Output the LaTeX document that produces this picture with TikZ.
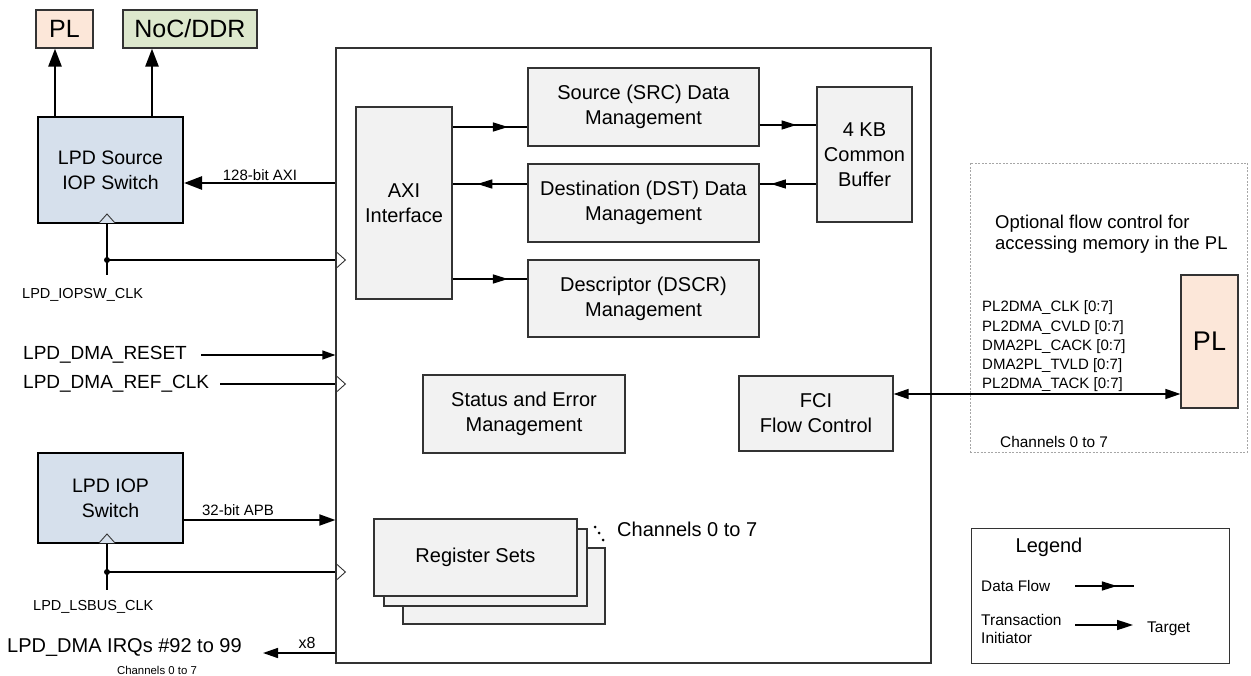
\documentclass[tikz,border=0pt]{standalone}
\usepackage{fontspec}
\setmainfont{Liberation Sans}
\usetikzlibrary{arrows.meta,decorations.markings,calc}
\definecolor{boxgray}{HTML}{F2F2F2}
\definecolor{lpdblue}{HTML}{D6E0EC}
\definecolor{plpeach}{HTML}{FCE7D9}
\definecolor{nocgreen}{HTML}{DDE8CD}
\definecolor{edge}{HTML}{333333}
\newcommand\myfs[2]{\fontsize{#1}{#2}\selectfont}
\begin{document}
\begin{tikzpicture}[x=1pt,y=-1pt,
  box/.style={draw=edge, fill=boxgray, line width=1.2pt, align=center, inner sep=0pt, font=\myfs{20}{25}},
  lpd/.style={draw=black, fill=lpdblue, line width=2pt, align=center, inner sep=0pt, font=\myfs{19.5}{25}},
  topbox/.style={draw=edge, line width=1.2pt, inner sep=0pt, font=\myfs{25}{28}},
  lbl/.style={inner sep=0pt, anchor=west},
  clab/.style={inner sep=0pt, anchor=center},
  wire/.style={line width=1.1pt},
  clk/.style={line width=0.9pt, draw=edge},
  thickarr/.style={line width=2.6pt, -{Triangle[length=18pt,width=13pt]}},
  sigarr/.style={line width=1.3pt, -{Triangle[length=13pt,width=9pt]}},
  medarr/.style={line width=1.8pt, -{Triangle[length=16pt,width=11pt]}},
  dataflow/.style={line width=1.4pt, postaction={decorate},
    decoration={markings, mark=at position #1 with {\arrow{Triangle[length=15pt,width=9pt]}}}},
]
\useasboundingbox (0,0) rectangle (1251,676);

% main block
\node[draw=edge, line width=1.2pt, fill=white, minimum width=595, minimum height=615, inner sep=0pt] (main) at (633.5,355.5) {};

% inner blocks
\node[box, minimum width=96, minimum height=192] (axi) at (404,203) {AXI\\Interface};
\node[box, minimum width=231, minimum height=78] (src) at (643.5,107) {Source (SRC) Data\\Management};
\node[box, minimum width=231, minimum height=78] (dst) at (643.5,203) {Destination (DST) Data\\Management};
\node[box, minimum width=231, minimum height=77] (dscr) at (643.5,298.5) {Descriptor (DSCR)\\Management};
\node[box, minimum width=95, minimum height=135] (buf) at (864.5,154.5) {4 KB\\Common\\Buffer};
\node[box, minimum width=202, minimum height=78] (stat) at (524,414) {Status and Error\\Management};
\node[box, minimum width=154, minimum height=75] (fci) at (816,413.5) {FCI\\Flow Control};

% register sets
\node[box, minimum width=202, minimum height=76] (reg3) at (504,586) {};
\node[box, minimum width=203, minimum height=77] (reg2) at (485.5,567.5) {};
\node[box, minimum width=203, minimum height=77] (reg1) at (475.5,557.5) {Register Sets};
\fill (595,527) circle (1.5) (599,533) circle (1.5) (603,540) circle (1.5);
\node[lbl, font=\myfs{20}{24}] (chreg) at (617,529) {Channels 0 to 7};

% data flows
\draw[dataflow=0.74] (axi.east |- 0,127) -- (src.west |- 0,127);
\draw[dataflow=0.67] (dst.west |- 0,184) -- (axi.east |- 0,184);
\draw[dataflow=0.74] (axi.east |- 0,279) -- (dscr.west |- 0,279);
\draw[dataflow=0.65] (src.east |- 0,125) -- (buf.west |- 0,125);
\draw[dataflow=0.8] (buf.west |- 0,184) -- (dst.east |- 0,184);

% optional PL flow control
\node[draw=gray!70, line width=0.9pt, dash pattern=on 2pt off 1.5pt, minimum width=277, minimum height=289, inner sep=0pt] (opt) at (1108.5,307.5) {};
\node[draw=edge, fill=plpeach, line width=1.2pt, minimum width=57, minimum height=133, inner sep=0pt, font=\myfs{27}{30}] (plr) at (1209.5,341.5) {PL};
\node[lbl, align=left, font=\myfs{18.5}{21.5}] (optt) at (995,234) {Optional flow control for\\accessing memory in the PL};
\node[lbl, align=left, font=\myfs{15}{19.3}] (sigs) at (982,346.5) {PL2DMA\_CLK [0:7]\\PL2DMA\_CVLD [0:7]\\DMA2PL\_CACK [0:7]\\DMA2PL\_TVLD [0:7]\\PL2DMA\_TACK [0:7]};
\node[lbl, font=\myfs{15.4}{18}] (optch) at (1000,442) {Channels 0 to 7};
\draw[line width=1.3pt, {Triangle[length=15pt,width=10pt]}-{Triangle[length=15pt,width=10pt]}] (fci.east |- 0,394) -- (plr.west |- 0,394);

% left side: switches
\node[lpd, minimum width=145, minimum height=106] (lpds) at (110.5,170) {LPD Source\\IOP Switch};
\node[lpd, minimum width=145, minimum height=90] (lpdi) at (110.5,498) {LPD IOP\\Switch};
\node[topbox, fill=plpeach, minimum width=57, minimum height=38] (plt) at (64.5,29) {PL};
\node[topbox, fill=nocgreen, minimum width=134, minimum height=38] (noc) at (190,29) {NoC/DDR};
\draw[thickarr] (lpds.north -| 55,0) -- (plt.south -| 55,0);
\draw[thickarr] (lpds.north -| 152,0) -- (noc.south -| 152,0);
\draw[thickarr] (main.west |- 0,183) -- (lpds.east |- 0,183);
\node[clab, font=\myfs{15}{18}] (axilbl) at (260,175) {128-bit AXI};

% IOPSW clock
\coordinate (ck1end) at (107,275);
\coordinate (ck1dot) at (107,260);
\draw[wire] (lpds.south -| ck1end) -- (ck1end);
\draw[wire] (ck1dot) -- (main.west |- ck1dot);
\fill (ck1dot) circle (3);
\draw[clk, fill=lpdblue] (lpds.south -| ck1end) ++(-8,-1) -- ++(8,-9) -- ++(8,9);
\draw[clk] (main.west |- ck1dot) ++(0,-9) -- ++(10,9) -- ++(-10,9);
\node[lbl, font=\myfs{14.5}{17}] (ck1lbl) at (22,295) {LPD\_IOPSW\_CLK};

% reset and ref clock
\node[lbl, font=\myfs{19}{22}] (rst) at (23,355) {LPD\_DMA\_RESET};
\coordinate (rstA) at ([xshift=14pt]rst.east);
\draw[sigarr] (rstA) -- (main.west |- rstA);
\node[lbl, font=\myfs{19}{22}] (ref) at (23,384) {LPD\_DMA\_REF\_CLK};
\coordinate (refA) at ([xshift=11pt]ref.east);
\draw[wire] (refA) -- (main.west |- refA);
\draw[clk] (main.west |- refA) ++(0,-9) -- ++(10,9) -- ++(-10,9);

% APB
\draw[medarr] (lpdi.east |- 0,520) -- (main.west |- 0,520);
\node[clab, font=\myfs{15}{18}] (apblbl) at (238,510) {32-bit APB};

% LSBUS clock
\coordinate (ck2end) at (107,590);
\coordinate (ck2dot) at (107,572);
\draw[wire] (lpdi.south -| ck2end) -- (ck2end);
\draw[wire] (ck2dot) -- (main.west |- ck2dot);
\fill (ck2dot) circle (3);
\draw[clk, fill=lpdblue] (lpdi.south -| ck2end) ++(-8,-1) -- ++(8,-9) -- ++(8,9);
\draw[clk] (main.west |- ck2dot) ++(0,-9) -- ++(10,9) -- ++(-10,9);
\node[lbl, font=\myfs{14.5}{17}] (ck2lbl) at (33,607) {LPD\_LSBUS\_CLK};

% IRQ
\node[lbl, font=\myfs{20}{23}] (irq) at (7,648) {LPD\_DMA IRQs \#92 to 99};
\coordinate (irqA) at (263,653);
\draw[line width=1.5pt, -{Triangle[length=15pt,width=10pt]}] (main.west |- irqA) -- (irqA);
\node[clab, font=\myfs{16}{18}] (x8) at (307,643) {x8};
\node[clab, font=\myfs{11.4}{13}] (irqch) at (157,670) {Channels 0 to 7};

% legend
\node[draw=edge, line width=1pt, minimum width=258, minimum height=135, inner sep=0pt] (leg) at (1100,595.5) {};
\node[clab, font=\myfs{20}{24}] (legt) at (1049,547) {Legend};
\node[lbl, font=\myfs{15.3}{18}] (ldf) at (981,586) {Data Flow};
\coordinate (ldfA) at (1075,586);
\coordinate (ldfB) at (1134,586);
\draw[dataflow=0.71] (ldfA) -- (ldfB);
\node[lbl, align=left, font=\myfs{15.5}{18}] (ltr) at (981,629) {Transaction\\Initiator};
\node[lbl, font=\myfs{15.5}{18}] (ltg) at (1147,629) {Target};
\coordinate (ltrA) at (1075,625);
\coordinate (ltrB) at (1133,625);
\draw[line width=1.6pt, -{Triangle[length=16pt,width=10pt]}] (ltrA) -- (ltrB);
\end{tikzpicture}
\end{document}
